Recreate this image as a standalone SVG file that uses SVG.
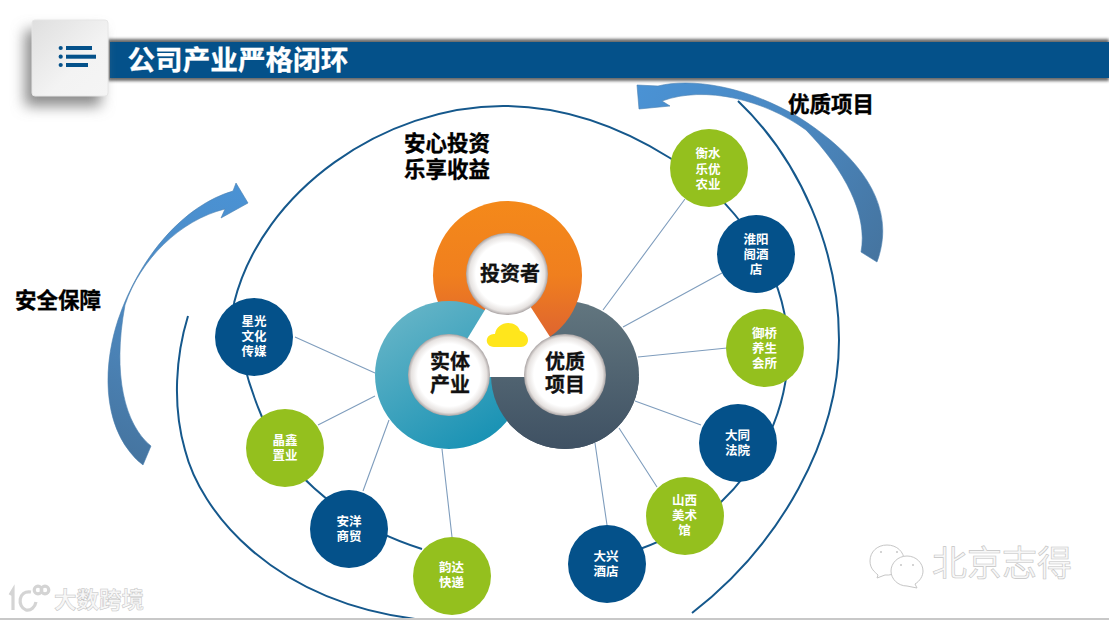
<svg xmlns="http://www.w3.org/2000/svg" width="1109" height="620" viewBox="0 0 1109 620">
<style>
text{font-family:"Noto Sans CJK SC","Liberation Sans",sans-serif;font-weight:700}
.blue{fill:#04518a}.green{fill:#94c01e}
.n{fill:#fff;font-size:12.5px;text-anchor:middle}
.lb{fill:#000;font-size:21.5px;stroke:#000;stroke-width:.35}
.c{fill:#111;font-size:20px;text-anchor:middle;stroke:#111;stroke-width:.3}
.ring{fill:none;stroke:#15588c;stroke-width:2}
.spoke{stroke:#7f9dbd;stroke-width:1.1;fill:none}
.hub{fill:url(#hub)}
.wm{fill:#f7f7f7;stroke:#c4c4c4;stroke-width:.6}
</style>
<defs>
<linearGradient id="orange" x1=".5" y1="0" x2=".5" y2="1"><stop offset="0" stop-color="#f4891a"/><stop offset=".5" stop-color="#f07f1e"/><stop offset="1" stop-color="#db5f33"/></linearGradient>
<linearGradient id="teal" x1=".15" y1="0" x2=".8" y2="1"><stop offset="0" stop-color="#69b6c8"/><stop offset="1" stop-color="#1490b3"/></linearGradient>
<linearGradient id="slate" x1=".5" y1="0" x2=".5" y2="1"><stop offset="0" stop-color="#62767f"/><stop offset="1" stop-color="#3f5163"/></linearGradient>
<radialGradient id="hub"><stop offset="0" stop-color="#fff"/><stop offset=".76" stop-color="#fff"/><stop offset=".92" stop-color="#e6e2e0"/><stop offset="1" stop-color="#aaa4a4"/></radialGradient>
<linearGradient id="arrR" gradientUnits="userSpaceOnUse" x1="640" y1="90" x2="880" y2="260"><stop offset="0" stop-color="#4a92d4"/><stop offset=".55" stop-color="#4a86be"/><stop offset="1" stop-color="#45749f"/></linearGradient>
<linearGradient id="arrL" gradientUnits="userSpaceOnUse" x1="245" y1="190" x2="130" y2="460"><stop offset="0" stop-color="#4a92d4"/><stop offset=".5" stop-color="#4e8ac2"/><stop offset="1" stop-color="#45749f"/></linearGradient>
<linearGradient id="box" x1="0" y1="0" x2="1" y2="1"><stop offset="0" stop-color="#dfdfdf"/><stop offset=".6" stop-color="#f3f3f3"/><stop offset="1" stop-color="#f5f5f5"/></linearGradient>
<filter id="blur" x="-40%" y="-40%" width="180%" height="180%"><feGaussianBlur stdDeviation="7"/></filter>
<filter id="blur2" x="-5%" y="-100%" width="110%" height="300%"><feGaussianBlur stdDeviation="1.6"/></filter>
<clipPath id="below"><rect x="370" y="377" width="280" height="80"/></clipPath>
</defs>
<rect width="1109" height="620" fill="#fff"/>

<g id="header">
<rect x="108" y="39" width="1001" height="42" fill="#6a6a6a" filter="url(#blur2)"/>
<rect x="110" y="42" width="999" height="36" fill="#04518a"/>
<rect x="25" y="30" width="76" height="76" fill="#8a8a8a" filter="url(#blur)"/>
<rect x="32" y="20" width="76" height="76" rx="3" fill="url(#box)" stroke="#e6e6e6"/>
<g fill="#04518a">
<rect x="66" y="46" width="26" height="4"/><rect x="66" y="54.7" width="30" height="4"/><rect x="66" y="63" width="22" height="4"/>
<circle cx="60.7" cy="48" r="2.1"/><circle cx="60.7" cy="56.7" r="2.1"/><circle cx="60.7" cy="65" r="2.1"/>
</g>
<text x="127.500" y="70" font-size="27.6" fill="#fff" stroke="#fff" stroke-width=".3">公司产业严格闭环</text>
</g>

<g id="connectors">
<path class="ring" d="M234,303C262,190 385,106 503,106C565,106 622,128 670,158C730,197 788,265 788,350C788,410 760,465 721,502C697,524 670,538 640,549"/>
<path class="ring" d="M234,303C236,340 247,382 262,417C280,460 330,520 422,549"/>
<path class="ring" d="M738,101C800,160 839,250 839,340C839,440 780,545 692,613" stroke-width="2.2"/>
<path class="ring" d="M188,316C176,355 172,405 185,450C200,510 270,600 415,619"/>
<path class="spoke" d="M685,199L603,310M722,273L623,327M727,348L638,357M701,425L635,401M657,487L619,428M607,525L595,443M295,337L375,373M318,425L375,396M363,491L389,420M452,537L442,449"/>
</g>

<g id="arrow-top"><path d="M637,85L658,86C690,78 745,85 800,118C850,150 900,200 877,262L861,252C868,215 845,170 806,130C765,100 705,85 662,101L670,106L639,109Z" fill="url(#arrR)" stroke="#4a7fb0" stroke-width=".6"/></g>
<g id="arrow-left"><path d="M248,203L236,183L233,191C185,205 140,255 118,320C100,375 105,435 143,465L151,446C125,425 112,375 125,305C140,260 180,220 225,209L221,218Z" fill="url(#arrL)" stroke="#4a7fb0" stroke-width=".6"/></g>

<g id="label-top"><text class="lb" x="788" y="112">优质项目</text></g>
<g id="label-left"><text class="lb" x="15" y="308">安全保障</text></g>
<g id="label-main"><text class="lb" y="151"><tspan x="404">安心投资</tspan><tspan x="404" dy="26">乐享收益</tspan></text></g>

<g id="core">
<circle cx="565" cy="375" r="74" fill="url(#slate)"/>
<circle cx="507.500" cy="275.500" r="74.500" fill="url(#orange)"/>
<circle cx="449" cy="375" r="74" fill="url(#teal)"/>
<circle cx="565" cy="375" r="74" fill="url(#slate)" clip-path="url(#below)"/>
<polygon points="508,272 576,377 444,377" fill="#fff"/>
<path d="M494,347C488,347 486,342 487,339C488,335 492,334 495,334C496,327 502,323 508,323C514,323 519,326 520,331C525,332 528,336 528,340C528,344 525,347 521,347Z" fill="#ffe61c"/>
</g>
<g id="node-investor"><circle class="hub" cx="507" cy="274" r="41"/><text class="c" x="510" y="281">投资者</text></g>
<g id="node-industry"><circle class="hub" cx="449" cy="375" r="41"/><text class="c" y="369"><tspan x="450">实体</tspan><tspan x="450" dy="23">产业</tspan></text></g>
<g id="node-project"><circle class="hub" cx="565" cy="375" r="41"/><text class="c" y="369"><tspan x="565">优质</tspan><tspan x="565" dy="23">项目</tspan></text></g>

<g id="node-hengshui"><circle class="green" cx="709" cy="168" r="39"/><text class="n" y="158"><tspan x="708">衡水</tspan><tspan x="708" dy="15.500">乐优</tspan><tspan x="708" dy="15.500">农业</tspan></text></g>
<g id="node-huaiyang"><circle class="blue" cx="756" cy="254" r="39"/><text class="n" y="244"><tspan x="756">淮阳</tspan><tspan x="756" dy="15">阁酒</tspan><tspan x="756" dy="14.500">店</tspan></text></g>
<g id="node-yuqiao"><circle class="green" cx="765" cy="348" r="39"/><text class="n" y="338"><tspan x="764.500">御桥</tspan><tspan x="764.500" dy="15">养生</tspan><tspan x="764.500" dy="14.500">会所</tspan></text></g>
<g id="node-datong"><circle class="blue" cx="738" cy="443" r="39"/><text class="n" y="440"><tspan x="737.500">大同</tspan><tspan x="737.500" dy="15">法院</tspan></text></g>
<g id="node-shanxi"><circle class="green" cx="685" cy="516" r="39"/><text class="n" y="505"><tspan x="684.500">山西</tspan><tspan x="684.500" dy="15">美术</tspan><tspan x="684.500" dy="15">馆</tspan></text></g>
<g id="node-daxing"><circle class="blue" cx="607" cy="564" r="39"/><text class="n" y="561"><tspan x="606">大兴</tspan><tspan x="606" dy="14.500">酒店</tspan></text></g>
<g id="node-xingguang"><circle class="blue" cx="254" cy="337" r="39"/><text class="n" y="326"><tspan x="254">星光</tspan><tspan x="254" dy="15">文化</tspan><tspan x="254" dy="15">传媒</tspan></text></g>
<g id="node-jingxin"><circle class="green" cx="285" cy="448" r="39"/><text class="n" y="445"><tspan x="285">晶鑫</tspan><tspan x="285" dy="15">置业</tspan></text></g>
<g id="node-anyang"><circle class="blue" cx="349" cy="529" r="39"/><text class="n" y="526"><tspan x="349">安洋</tspan><tspan x="349" dy="15">商贸</tspan></text></g>
<g id="node-yunda"><circle class="green" cx="452" cy="576" r="39"/><text class="n" y="572"><tspan x="451.500">韵达</tspan><tspan x="451.500" dy="15">快递</tspan></text></g>

<g id="watermark-left">
<g fill="none" stroke="#d4d4d4" stroke-width="3.200">
<path d="M10,595L13,590V610"/><path d="M31,592C18,590 17,607 26,610C31,611 35,607 36,602"/>
<circle cx="38" cy="590" r="3.800"/><circle cx="45" cy="590" r="3.800"/>
</g>
<text class="wm" x="54" y="608" font-size="22.500" style="stroke-width:.5">大数跨境</text>
</g>
<g id="watermark-right">
<path d="M887,545C877,545 870,552 870,561C870,569 875,572 878,575L877,578L885,575C895,576 904,569 904,560C904,552 897,545 887,545Z" fill="#fff" stroke="#c6c6c6"/>
<path d="M907,556C898,556 891,563 891,571C891,579 898,586 907,586L917,588L915,584C920,581 923,576 923,571C923,563 916,556 907,556Z" fill="#fff" stroke="#c6c6c6"/>
<g fill="#c6c6c6"><circle cx="881" cy="552" r="1"/><circle cx="897" cy="552" r="1"/><circle cx="901" cy="565" r="1"/><circle cx="913" cy="565" r="1"/></g>
<text class="wm" x="932" y="576" font-size="35" style="font-weight:400">北京志得</text>
</g>
<rect x="0" y="618" width="1109" height="2" fill="#c8c8c8"/>
</svg>
